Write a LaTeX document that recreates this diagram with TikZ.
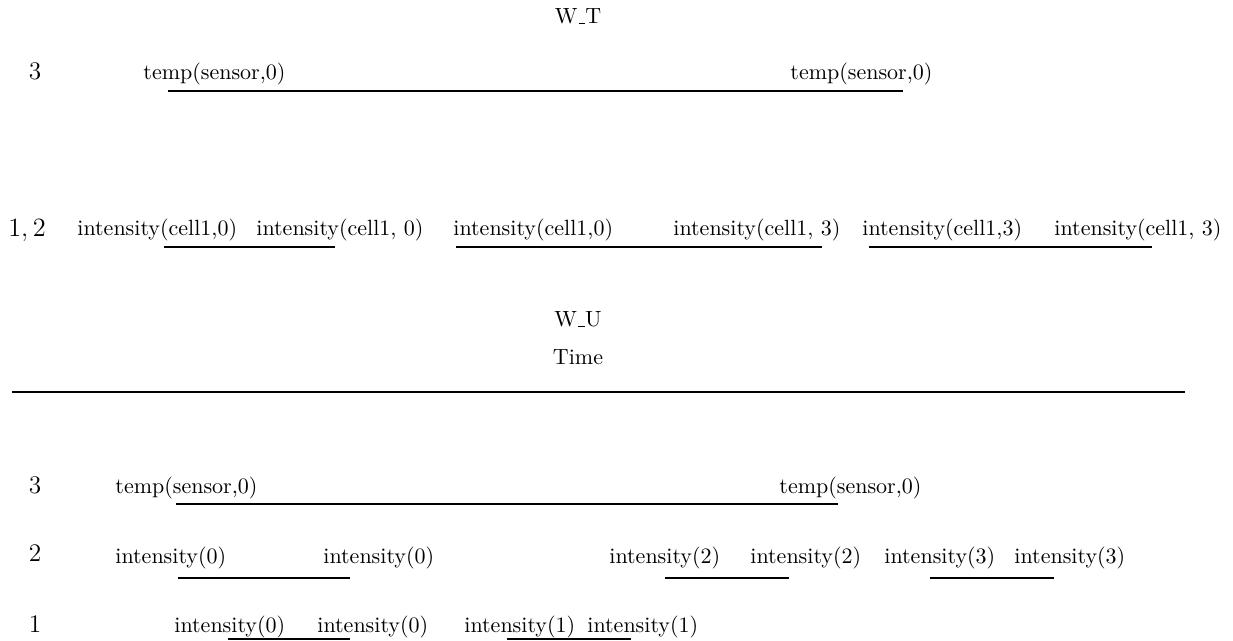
\documentclass[tikz,border=0pt]{standalone}
% low-rule underscore as in the classic text encoding
\newcommand\undsc{\kern.06em\rule{.3em}{.4pt}}
\begin{document}
\begin{tikzpicture}[x=0.4545pt, y=-0.4545pt,
  lbl/.style={inner sep=0pt, anchor=base west, font=\fontsize{10}{12}\selectfont},
  rownum/.style={inner sep=0pt, anchor=base, font=\fontsize{11.5}{13}\selectfont},
  title/.style={inner sep=0pt, anchor=base, font=\fontsize{10}{12}\selectfont},
  span/.style={line width=1pt},
  axis/.style={line width=1.2pt}]
\useasboundingbox (0,0) rectangle (1233,641);

% ---------- W_T ----------
\node[title] (wt) at (578,24) {W\undsc T};

% row 3
\node[rownum] (ta3) at (35,80) {3};
\node[lbl] (ta1) at (143,80) {temp(sensor,0)};
\node[lbl] (ta2) at (790,80) {temp(sensor,0)};
\coordinate (ta1e) at (168,91);
\coordinate (ta2e) at (903,91);
\draw[span] (ta1e) -- (ta2e);

% rows 1,2
\node[rownum] (ta12) at (27,237) {$1,2$};
\node[lbl] (ia1) at (77,236)   {intensity(cell1,0)};
\node[lbl] (ia2) at (256,236)  {intensity(cell1, 0)};
\node[lbl] (ia3) at (453,236)  {intensity(cell1,0)};
\node[lbl] (ia4) at (673,236)  {intensity(cell1, 3)};
\node[lbl] (ia5) at (862,236)  {intensity(cell1,3)};
\node[lbl] (ia6) at (1054,236) {intensity(cell1, 3)};
\coordinate (ia1e) at (164,247);  \coordinate (ia2e) at (335,247);
\coordinate (ia3e) at (456,247);  \coordinate (ia4e) at (822,247);
\coordinate (ia5e) at (869,247);  \coordinate (ia6e) at (1152,247);
\draw[span] (ia1e) -- (ia2e);
\draw[span] (ia3e) -- (ia4e);
\draw[span] (ia5e) -- (ia6e);

% ---------- W_U ----------
\node[title] (wu) at (578,327) {W\undsc U};
\node[title] (time) at (578,365) {Time};
\coordinate (axl) at (12,392);
\coordinate (axr) at (1185,392);
\draw[axis] (axl) -- (axr);

% row 3
\node[rownum] (ub3) at (35,494) {3};
\node[lbl] (tb1) at (115,494) {temp(sensor,0)};
\node[lbl] (tb2) at (779,494) {temp(sensor,0)};
\coordinate (tb1e) at (176,504);
\coordinate (tb2e) at (838,504);
\draw[span] (tb1e) -- (tb2e);

% row 2
\node[rownum] (ub2) at (35,562) {2};
\node[lbl] (p1) at (115,564)  {intensity(0)};
\node[lbl] (p2) at (323,564)  {intensity(0)};
\node[lbl] (p3) at (609,564)  {intensity(2)};
\node[lbl] (p4) at (750,564)  {intensity(2)};
\node[lbl] (p5) at (884,564)  {intensity(3)};
\node[lbl] (p6) at (1014,564) {intensity(3)};
\coordinate (p1e) at (178,578); \coordinate (p2e) at (350,578);
\coordinate (p3e) at (665,578); \coordinate (p4e) at (789,578);
\coordinate (p5e) at (930,578); \coordinate (p6e) at (1054,578);
\draw[span] (p1e) -- (p2e);
\draw[span] (p3e) -- (p4e);
\draw[span] (p5e) -- (p6e);

% row 1
\node[rownum] (ub1) at (35,633) {1};
\node[lbl] (q1) at (174,633) {intensity(0)};
\node[lbl] (q2) at (317,633) {intensity(0)};
\node[lbl] (q3) at (464,633) {intensity(1)};
\node[lbl] (q4) at (587,633) {intensity(1)};
\coordinate (q1e) at (228,639); \coordinate (q2e) at (350,639);
\coordinate (q3e) at (507,639); \coordinate (q4e) at (631,639);
\draw[span] (q1e) -- (q2e);
\draw[span] (q3e) -- (q4e);
\end{tikzpicture}
\end{document}
